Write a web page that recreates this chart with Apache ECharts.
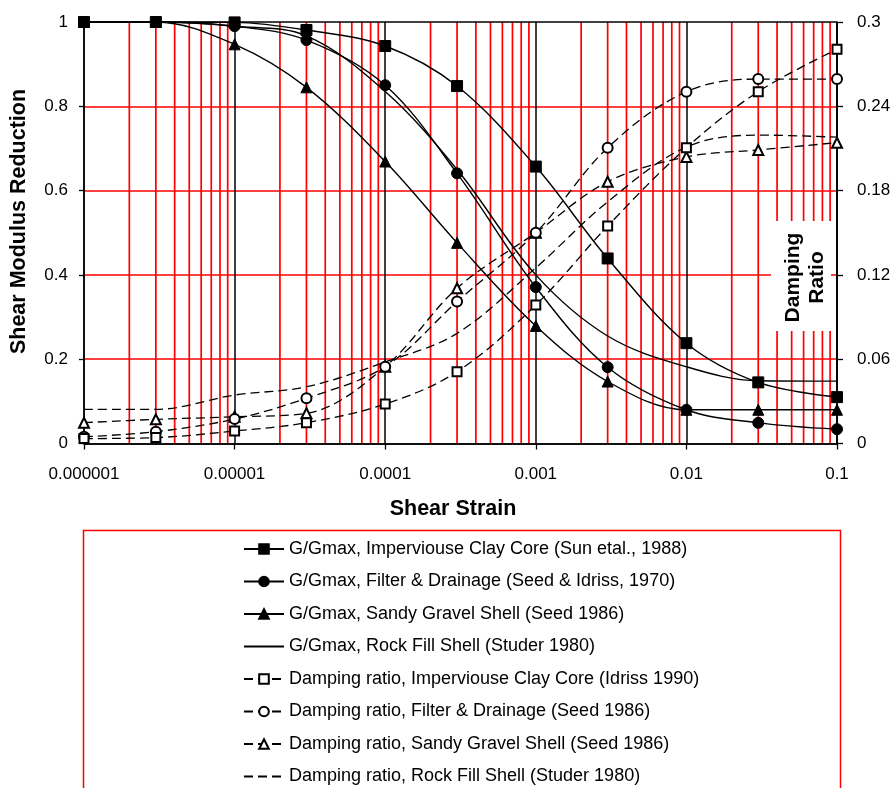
<!DOCTYPE html>
<html>
<head>
<meta charset="utf-8">
<script src="https://cdn.jsdelivr.net/npm/echarts@6/dist/echarts.min.js"></script>
<style>
html,body{margin:0;padding:0;background:#fff;}
#chart{width:896px;height:788px;}
</style>
</head>
<body>
<div id="chart"></div>
<script>
// Shear strain (x)
const strain = [1e-6, 3e-6, 1e-5, 3e-5, 1e-4, 3e-4, 1e-3, 3e-3, 1e-2, 3e-2, 1e-1];
// G/Gmax (left axis)
const gClay   = [1.0, 1.0, 0.999, 0.981, 0.943, 0.848, 0.657, 0.439, 0.238, 0.145, 0.110];
const gFilter = [1.0, 1.0, 0.990, 0.957, 0.850, 0.641, 0.371, 0.181, 0.080, 0.049, 0.034];
const gSandy  = [1.0, 1.0, 0.947, 0.845, 0.669, 0.476, 0.279, 0.147, 0.080, 0.080, 0.080];
const gRock   = [1.0, 1.0, 0.990, 0.967, 0.835, 0.650, 0.400, 0.255, 0.182, 0.149, 0.148];
// Damping ratio (right axis)
const dClay   = [0.0035, 0.0042, 0.0089, 0.0148, 0.0281, 0.0511, 0.0986, 0.1548, 0.2105, 0.2504, 0.2806];
const dFilter = [0.0048, 0.0084, 0.0174, 0.0322, 0.0547, 0.1010, 0.1500, 0.2105, 0.2504, 0.2594, 0.2594];
const dSandy  = [0.0148, 0.0172, 0.0190, 0.0215, 0.0547, 0.1105, 0.1500, 0.1863, 0.2040, 0.2089, 0.2141];
const dRock   = [0.0243, 0.0243, 0.0345, 0.0404, 0.0580, 0.0784, 0.1250, 0.1720, 0.2110, 0.2195, 0.2180];
// Series names
const names = [
  'G/Gmax, Imperviouse Clay Core (Sun etal., 1988)',
  'G/Gmax, Filter & Drainage (Seed & Idriss, 1970)',
  'G/Gmax, Sandy Gravel Shell (Seed 1986)',
  'G/Gmax, Rock Fill Shell (Studer 1980)',
  'Damping ratio, Imperviouse Clay Core (Idriss 1990)',
  'Damping ratio, Filter & Drainage (Seed 1986)',
  'Damping ratio, Sandy Gravel Shell (Seed 1986)',
  'Damping ratio, Rock Fill Shell (Studer 1980)'
];
// Axis ticks
const decades = [1e-6, 1e-5, 1e-4, 1e-3, 1e-2];
const minorMultipliers = [2, 3, 4, 5, 6, 7, 8, 9];
const yRange = [0, 1];

const FONT = "'Liberation Sans', Arial, Helvetica, sans-serif";
const pairs = arr => strain.map((x, i) => [x, arr[i]]);
// minor (red) vertical grid lines, drawn through the log x scale
const minorData = [];
decades.forEach(d => minorMultipliers.forEach(m => {
  const v = +(d * m).toPrecision(3);
  minorData.push([v, yRange[0]], [v, yRange[1]], [v, '-']);
}));

const solid = (name, data, symbol, size, z, hidden) => ({
  name, type: 'line', data: pairs(data), yAxisIndex: 0,
  smooth: 0.35, symbol, symbolSize: size, showSymbol: !hidden,
  lineStyle: {color: '#000', width: 1.4},
  itemStyle: hidden ? {color: 'rgba(0,0,0,0)', borderColor: 'rgba(0,0,0,0)', borderWidth: 0}
                    : {color: '#000', borderColor: '#000', borderWidth: 1},
  z, animation: false, silent: true
});
const dashed = (name, data, symbol, size, z, hidden) => ({
  name, type: 'line', data: pairs(data), yAxisIndex: 1,
  smooth: 0.35, symbol, symbolSize: size, showSymbol: !hidden,
  lineStyle: {color: '#000', width: 1.3, type: [9, 5]},
  itemStyle: hidden ? {color: 'rgba(0,0,0,0)', borderColor: 'rgba(0,0,0,0)', borderWidth: 0}
                    : {color: '#000', borderColor: '#000', borderWidth: 1.2},
  z, animation: false, silent: true
});

const chart = echarts.init(document.getElementById('chart'), null, {renderer: 'canvas'});
chart.setOption({
  backgroundColor: '#fff',
  animation: false,
  textStyle: {fontFamily: FONT, color: '#000'},
  grid: {left: 84, right: 59, top: 22, bottom: 344.5, containLabel: false},
  xAxis: {
    type: 'log', logBase: 10, min: 1e-6, max: 0.1, splitNumber: 5, z: 2,
    axisLine: {show: true, onZero: false, lineStyle: {color: '#000', width: 1.5}},
    axisTick: {show: true, length: 6, lineStyle: {color: '#000', width: 1.3}},
    axisLabel: {
      margin: 22, fontSize: 17, color: '#000', fontFamily: FONT,
      formatter: v => { const e = Math.round(Math.log10(v)); return v.toFixed(Math.max(0, -e)); }
    },
    splitLine: {show: true, lineStyle: {color: '#000', width: 1.5}},
    minorTick: {show: false}, minorSplitLine: {show: false}
  },
  yAxis: [
    {
      type: 'value', min: 0, max: 1, interval: 0.2, position: 'left', z: 2,
      axisLine: {show: true, lineStyle: {color: '#000', width: 1.5}},
      axisTick: {show: true, length: 5, lineStyle: {color: '#000', width: 1.3}},
      axisLabel: {margin: 16, fontSize: 17, color: '#000', fontFamily: FONT},
      splitLine: {show: true, lineStyle: {color: ['#000', '#ff0000', '#ff0000', '#ff0000', '#ff0000', '#000'], width: 1.7}}
    },
    {
      type: 'value', min: 0, max: 0.3, interval: 0.06, position: 'right', z: 2,
      axisLine: {show: true, lineStyle: {color: '#000', width: 1.5}},
      axisTick: {show: true, length: 6, lineStyle: {color: '#000', width: 1.3}},
      axisLabel: {margin: 20, fontSize: 17, color: '#000', fontFamily: FONT},
      splitLine: {show: false}
    }
  ],
  legend: {
    orient: 'vertical', left: 243, top: 540, height: 280, padding: 0,
    itemWidth: 40, itemHeight: 12, itemGap: 14.5,
    textStyle: {fontSize: 18, color: '#000', fontFamily: FONT},
    data: names,
    selectedMode: false
  },
  graphic: [
    {type: 'rect', z: 100, silent: true, shape: {x: 771, y: 221, width: 60, height: 110}, style: {fill: '#fff'}},
    {type: 'text', z: 101, silent: true, x: 805, y: 277.5, rotation: Math.PI / 2,
      style: {text: 'Damping\nRatio', font: "bold 21px " + FONT, fill: '#000', align: 'center', verticalAlign: 'middle', lineHeight: 24}},
    {type: 'text', z: 101, silent: true, x: 19.5, y: 221.5, rotation: Math.PI / 2,
      style: {text: 'Shear Modulus Reduction', font: "bold 21.5px " + FONT, fill: '#000', align: 'center', verticalAlign: 'middle'}},
    {type: 'text', z: 101, silent: true, x: 453, y: 509,
      style: {text: 'Shear Strain', font: "bold 21.5px " + FONT, fill: '#000', align: 'center', verticalAlign: 'middle'}},
    {type: 'rect', z: 100, silent: true, shape: {x: 83.5, y: 530.5, width: 757, height: 400}, style: {fill: 'none', stroke: '#ff0000', lineWidth: 1.5}}
  ],
  series: [
    {
      name: 'minor', type: 'line', data: minorData, yAxisIndex: 0, z: 1,
      silent: true, animation: false, showSymbol: false, symbol: 'none', connectNulls: false,
      lineStyle: {color: '#ff0000', width: 1.7}
    },
    dashed(names[7], dRock, 'circle', 6, 3, true),
    dashed(names[6], dSandy, 'emptyTriangle', 10, 3),
    dashed(names[5], dFilter, 'emptyCircle', 10, 3),
    dashed(names[4], dClay, 'emptyRect', 9, 3),
    solid(names[3], gRock, 'circle', 6, 4, true),
    solid(names[2], gSandy, 'triangle', 11, 4),
    solid(names[1], gFilter, 'circle', 11, 4),
    solid(names[0], gClay, 'rect', 11, 5)
  ]
});
</script>
</body>
</html>
